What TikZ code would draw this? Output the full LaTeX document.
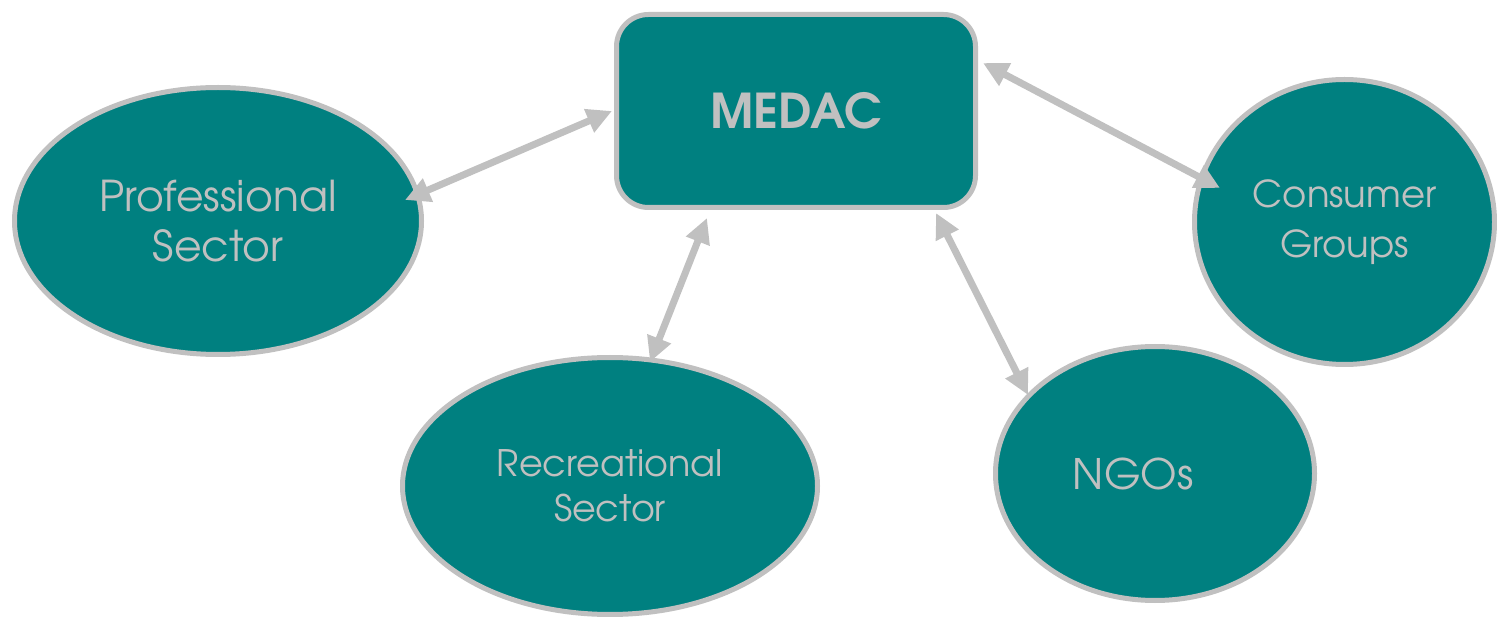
\documentclass[tikz,border=0pt]{standalone}
\usepackage{fontspec}
\setmainfont{TeX Gyre Adventor}
\usetikzlibrary{arrows.meta,shapes.geometric}
\definecolor{medacteal}{RGB}{0,128,128}
\definecolor{medacgrey}{RGB}{192,192,192}

\begin{document}
\begin{tikzpicture}[x=1pt,y=-1pt,
  group/.style={ellipse,draw=medacgrey,fill=medacteal,line width=5pt,text=medacgrey,inner sep=0pt,outer sep=0pt,align=center},
  hub/.style={rectangle,rounded corners=32pt,draw=medacgrey,fill=medacteal,line width=5pt,text=medacgrey,inner sep=0pt,outer sep=0pt,minimum width=359pt,minimum height=193pt,font=\fontsize{48}{50}\selectfont\bfseries},
  link/.style={draw=medacgrey,line width=7pt,{Triangle[length=25pt,width=24pt]}-{Triangle[length=25pt,width=24pt]}}]
  \useasboundingbox (0,0) rectangle (1497,617);
  \node[hub] (medac) at (796,111) {MEDAC};
  \node[group,minimum width=407pt,minimum height=267pt,font=\fontsize{42.5}{50}\selectfont] (prof) at (218,221) {Professional\\Sector};
  \node[group,minimum width=415pt,minimum height=257pt,font=\fontsize{36.5}{45}\selectfont] (rec) at (610,486) {Recreational\\Sector};
  \node[group,minimum width=319pt,minimum height=254pt,font=\fontsize{42}{48}\selectfont] (ngo) at (1155,473.5) {NGOs\kern44pt};
  \node[group,minimum width=300pt,minimum height=285pt,font=\fontsize{37}{50}\selectfont] (cons) at (1344.5,222) {Consumer\\Groups};
  \draw[link] ([shift={(-16.5,-21)}]prof.east) -- ([shift={(-4.5,0)}]medac.west);
  \draw[link] ([shift={(-89,10.5)}]medac.south) -- ([shift={(40,4.5)}]rec.north);
  \draw[link] ([shift={(140,5.5)}]medac.south) -- ([shift={(-127,48.5)}]ngo.north);
  \draw[link] ([shift={(7.5,-48)}]medac.east) -- ([shift={(25.5,-34)}]cons.west);
\end{tikzpicture}
\end{document}
